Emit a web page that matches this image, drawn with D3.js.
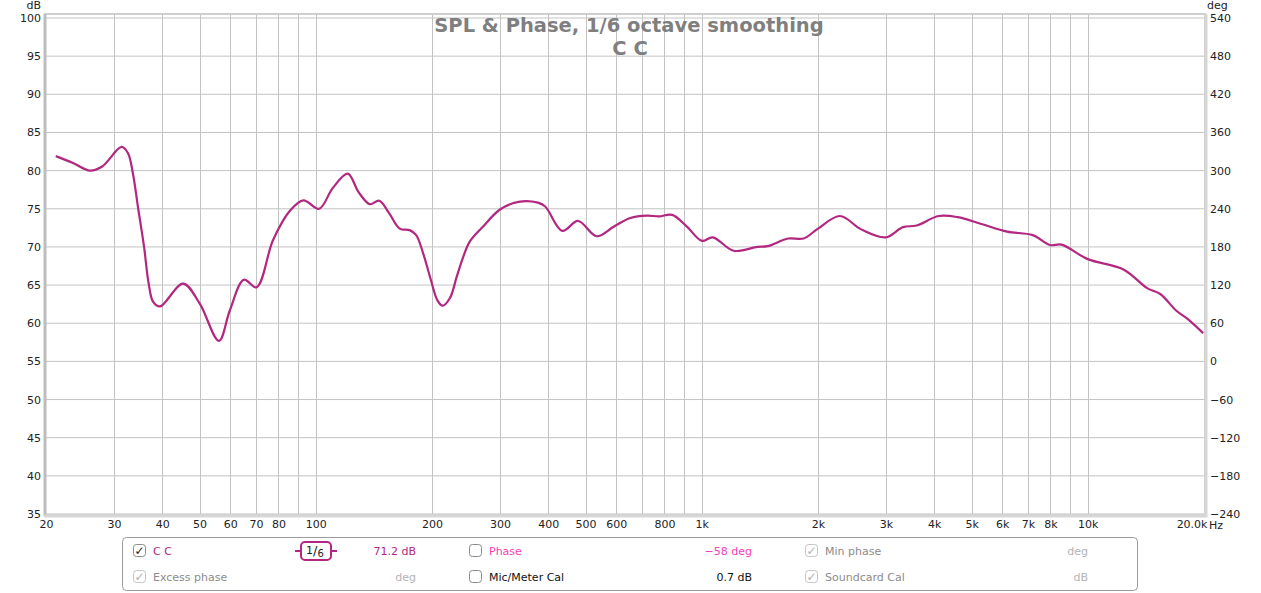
<!DOCTYPE html>
<html>
<head>
<meta charset="utf-8">
<script src="https://cdn.jsdelivr.net/npm/d3@7"></script>
<style>
  body { margin: 0; background: #fff; }
  svg text { font-family: "DejaVu Sans", sans-serif; }
</style>
</head>
<body>
<div id="chart"></div>
<script>
const freqs = [21.2, 23.5, 26.0, 27.9, 31.4, 32.6, 33.6, 34.6, 35.9, 36.9, 37.9, 39.5,
  45.3, 50, 56.1, 59.9, 65.1, 70.2, 77.5, 85.9, 92.9, 102, 110.6, 121, 129, 138, 146,
  155, 165, 175, 182, 189.6, 198.6, 206.6, 213, 222.6, 231.8, 241, 250.5, 271, 300, 335,
  376, 393, 435, 478, 534, 591,
  653, 722, 774, 838, 915, 1000, 1068, 1209, 1393, 1480, 1675, 1835, 2000, 2280, 2587,
  2995, 3320, 3600, 4110, 4600, 5300, 6180, 7200, 7980, 8550, 10000, 12370, 14250,
  15440, 16900, 18100, 19900];
const spl = [81.9, 81.0, 80.0, 80.5, 83.1, 82.3, 79.6, 75.3, 70.0, 65.2, 62.8, 62.2,
  65.2, 62.6, 57.7, 61.7, 65.7, 64.7, 70.9, 74.8, 76.1, 75.0, 77.7, 79.6, 77.2, 75.6, 76.05,
  74.4, 72.4, 72.2, 71.55, 69.2, 65.7, 63.0, 62.3, 63.3, 66.1, 68.7, 70.7, 72.65, 74.9, 75.9,
  75.8, 75.3, 72.1, 73.4, 71.4, 72.65,
  73.8, 74.1, 74.0, 74.2, 72.65, 70.8, 71.25, 69.5, 70.0, 70.1, 71.1, 71.1, 72.4, 74.05, 72.3,
  71.25, 72.6, 72.8, 74.05, 73.9, 73.0, 72.0, 71.55, 70.25, 70.3, 68.4, 67.05, 64.6,
  63.8, 61.7, 60.6, 58.7];

const dbTicks = [35, 40, 45, 50, 55, 60, 65, 70, 75, 80, 85, 90, 95, 100];
const degTicks = [-240, -180, -120, -60, 0, 60, 120, 180, 240, 300, 360, 420, 480, 540];
const gridFreqs = [30, 40, 50, 60, 70, 80, 90, 100, 200, 300, 400, 500, 600, 700, 800, 900,
  1000, 2000, 3000, 4000, 5000, 6000, 7000, 8000, 9000, 10000];
const freqLabels = [
  [20, "20"], [30, "30"], [40, "40"], [50, "50"], [60, "60"], [70, "70"], [80, "80"],
  [100, "100"], [200, "200"], [300, "300"], [400, "400"], [500, "500"], [600, "600"],
  [800, "800"], [1000, "1k"], [2000, "2k"], [3000, "3k"], [4000, "4k"], [5000, "5k"],
  [6000, "6k"], [7000, "7k"], [8000, "8k"], [10000, "10k"], [20000, "20.0k"]];

const title = "SPL & Phase, 1/6 octave smoothing";
const subtitle = "C C";

const W = 1261, H = 593;
const plot = {left: 46, right: 1204, top: 18, bottom: 514};

const svg = d3.select("#chart").append("svg")
    .attr("width", W)
    .attr("height", H);

const x = d3.scaleLog().domain([20, 20000]).range([plot.left, plot.right]);
const y = d3.scaleLinear().domain([35, 100]).range([plot.bottom, plot.top]);
const yDeg = d3.scaleLinear().domain([-240, 540]).range([plot.bottom, plot.top]);

const gridColor = "#c3c3c3";
const labelColor = "#222";

// grid
svg.append("g")
    .selectAll("line.h")
    .data(dbTicks)
    .join("line")
    .attr("x1", plot.left).attr("x2", plot.right)
    .attr("y1", d => y(d)).attr("y2", d => y(d))
    .attr("stroke", gridColor).attr("stroke-width", 1);

svg.append("g")
    .selectAll("line.v")
    .data(gridFreqs)
    .join("line")
    .attr("x1", d => Math.round(x(d)) + 0.5).attr("x2", d => Math.round(x(d)) + 0.5)
    .attr("y1", plot.top - 4).attr("y2", plot.bottom)
    .attr("stroke", gridColor).attr("stroke-width", 1);

// frame (bevelled look)
svg.append("rect")
    .attr("x", plot.left - 1).attr("y", plot.top - 4)
    .attr("width", plot.right - plot.left + 2).attr("height", plot.bottom - plot.top + 5)
    .attr("fill", "none").attr("stroke", "#cfcfcf").attr("stroke-width", 2);
svg.append("path")
    .attr("d", `M${plot.left - 1},${plot.top - 4}V${plot.bottom + 2}`)
    .attr("stroke", "#bdbdbd").attr("stroke-width", 3);
svg.append("path")
    .attr("d", `M${plot.left - 2},${plot.bottom + 2}H${plot.right + 2}V${plot.top - 4}`)
    .attr("fill", "none").attr("stroke", "#d6d6d6").attr("stroke-width", 3);

// left axis
const yAxis = d3.axisLeft(y).tickValues(dbTicks).tickSize(0).tickPadding(4);
svg.append("g")
    .attr("transform", `translate(${plot.left - 1},0)`)
    .call(yAxis)
    .call(g => g.select(".domain").remove())
    .selectAll("text")
    .attr("font-size", 11).attr("fill", labelColor)
    .attr("font-family", "DejaVu Sans");

svg.append("text")
    .attr("x", 41).attr("y", 9)
    .attr("text-anchor", "end")
    .attr("font-size", 11).attr("fill", labelColor)
    .text("dB");

// right axis
const yRAxis = d3.axisRight(yDeg).tickValues(degTicks).tickSize(0).tickPadding(6);
svg.append("g")
    .attr("transform", `translate(${plot.right},0)`)
    .call(yRAxis)
    .call(g => g.select(".domain").remove())
    .selectAll("text")
    .attr("font-size", 11).attr("fill", labelColor)
    .attr("font-family", "DejaVu Sans")
    .text(d => d < 0 ? "\u2212" + Math.abs(d) : d);

svg.append("text")
    .attr("x", 1207).attr("y", 9)
    .attr("font-size", 11).attr("fill", labelColor)
    .text("deg");

// bottom axis
const xAxis = d3.axisBottom(x)
    .tickValues(freqLabels.map(d => d[0]))
    .tickFormat(d => freqLabels.find(f => f[0] === d)[1])
    .tickSize(0).tickPadding(6);
svg.append("g")
    .attr("transform", `translate(0,${plot.bottom})`)
    .call(xAxis)
    .call(g => g.select(".domain").remove())
    .selectAll("text")
    .attr("font-size", 11).attr("fill", labelColor)
    .attr("font-family", "DejaVu Sans")
    .filter(d => d === 20000)
    .attr("text-anchor", "end")
    .attr("dx", 3);

svg.append("text")
    .attr("x", plot.right + 5).attr("y", 529)
    .attr("text-anchor", "start")
    .attr("font-size", 11).attr("fill", labelColor)
    .text("Hz");

// title
svg.append("text")
    .attr("x", 629).attr("y", 32)
    .attr("text-anchor", "middle")
    .attr("font-size", 19.5).attr("font-weight", "bold").attr("fill", "#7f7f7f")
    .text(title);
svg.append("text")
    .attr("x", 630).attr("y", 55)
    .attr("text-anchor", "middle")
    .attr("font-size", 19.5).attr("font-weight", "bold").attr("fill", "#7f7f7f")
    .text(subtitle);

// SPL curve
const curveColor = "#b2277f";
const line = d3.line()
    .x(d => x(d[0]))
    .y(d => y(d[1]))
    .curve(d3.curveCatmullRom.alpha(0.5));

svg.append("path")
    .datum(d3.zip(freqs, spl))
    .attr("d", line)
    .attr("fill", "none")
    .attr("stroke", curveColor)
    .attr("stroke-width", 2.2)
    .attr("stroke-linejoin", "round");

// legend panel
const leg = svg.append("g");
leg.append("rect")
    .attr("x", 122.5).attr("y", 537.5)
    .attr("width", 1015).attr("height", 53)
    .attr("rx", 4)
    .attr("fill", "#fff").attr("stroke", "#9a9a9a");

function checkbox(cx, cy, checked, enabled) {
    leg.append("rect")
        .attr("x", cx + 0.5).attr("y", cy + 0.5)
        .attr("width", 12).attr("height", 12).attr("rx", 3)
        .attr("fill", "#fff")
        .attr("stroke", enabled ? "#8a8a8a" : "#c4c4c4");
    if (checked) {
        leg.append("text")
            .attr("x", cx + 6.5).attr("y", cy + 11)
            .attr("text-anchor", "middle")
            .attr("font-size", 12)
            .attr("fill", enabled ? "#222" : "#b0b0b0")
            .text("\u2713");
    }
}

function label(tx, ty, txt, color, anchor) {
    leg.append("text")
        .attr("x", tx).attr("y", ty)
        .attr("text-anchor", anchor || "start")
        .attr("font-size", 11).attr("fill", color)
        .text(txt);
}

const r1 = 555, r2 = 581;
const pink = "#f43fb6", grey = "#8c8c8c", light = "#b4b4b4";

checkbox(133, 544, true, true);
label(153, r1, "C C", curveColor);
checkbox(133, 570, true, false);
label(153, r2, "Excess phase", grey);

// smoothing widget
leg.append("path")
    .attr("d", "M295,551H301M331,551H337")
    .attr("stroke", curveColor).attr("stroke-width", 2);
leg.append("rect")
    .attr("x", 301).attr("y", 542)
    .attr("width", 30).attr("height", 18).attr("rx", 4)
    .attr("fill", "#fff").attr("stroke", curveColor).attr("stroke-width", 2);
const frac = leg.append("text")
    .attr("x", 306).attr("y", 554)
    .attr("font-size", 11).attr("fill", "#222");
frac.append("tspan").text("1");
frac.append("tspan").attr("font-size", 13).attr("dy", 1).text("/");
frac.append("tspan").attr("font-size", 10).attr("dy", 2).text("6");

label(416, r1, "71.2 dB", curveColor, "end");
label(416, r2, "deg", light, "end");

checkbox(469, 544, false, true);
label(489, r1, "Phase", pink);
label(752, r1, "\u221258 deg", pink, "end");
checkbox(469, 570, false, true);
label(489, r2, "Mic/Meter Cal", "#111");
label(752, r2, "0.7 dB", "#111", "end");

checkbox(805, 544, true, false);
label(825, r1, "Min phase", grey);
label(1088, r1, "deg", light, "end");
checkbox(805, 570, true, false);
label(825, r2, "Soundcard Cal", grey);
label(1088, r2, "dB", light, "end");
</script>
</body>
</html>
